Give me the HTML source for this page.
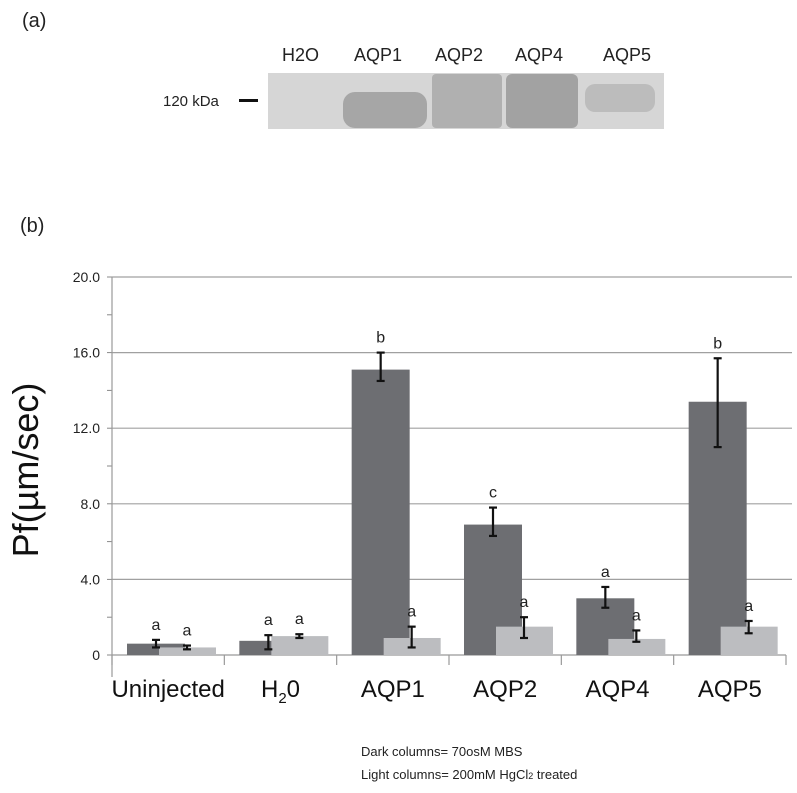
<!DOCTYPE html>
<html><head><meta charset="utf-8"><style>
body{margin:0;background:#fff;width:797px;height:788px;overflow:hidden;font-family:"Liberation Sans",sans-serif}
</style></head><body>
<svg id="c" width="797" height="788" xmlns="http://www.w3.org/2000/svg" font-family="Liberation Sans, sans-serif">
<text x="22" y="27" font-size="20" fill="#222">(a)</text>
<g>
<rect x="268" y="73" width="396" height="56" fill="#d6d6d6"/>
<rect x="343" y="92" width="84" height="36" rx="12" fill="#a6a6a6"/>
<rect x="432" y="74" width="70" height="54" rx="4" fill="#b0b0b0"/>
<rect x="506" y="74" width="72" height="54" rx="6" fill="#a2a2a2"/>
<rect x="585" y="84" width="70" height="28" rx="10" fill="#bcbcbc"/>
<text x="282" y="61" font-size="18" fill="#222">H2O</text>
<text x="354" y="61" font-size="18" fill="#222">AQP1</text>
<text x="435" y="61" font-size="18" fill="#222">AQP2</text>
<text x="515" y="61" font-size="18" fill="#222">AQP4</text>
<text x="603" y="61" font-size="18" fill="#222">AQP5</text>
<text x="163" y="106" font-size="15" fill="#222">120 kDa</text>
<rect x="239" y="99" width="19" height="3" fill="#111"/>
</g>
<text x="20" y="232" font-size="20" fill="#222">(b)</text>
<text transform="translate(38,470) rotate(-90)" text-anchor="middle" font-size="36" fill="#111">Pf(µm/sec)</text>
<g id="plot"></g>
<text x="361" y="756" font-size="13" fill="#222">Dark columns= 70osM MBS</text>
<text x="361" y="779" font-size="13" fill="#222">Light columns= 200mM HgCl<tspan font-size="9">2</tspan> treated</text>
</svg>
<script>
const categories=["Uninjected","H2O","AQP1","AQP2","AQP4","AQP5"];
const darkValues=[0.6,0.75,15.1,6.9,3.0,13.4];
const darkErrLow=[0.4,0.3,14.5,6.3,2.5,11.0];
const darkErrHigh=[0.8,1.05,16.0,7.8,3.6,15.7];
const darkLetters=["a","a","b","c","a","b"];
const lightValues=[0.4,1.0,0.9,1.5,0.85,1.5];
const lightErrLow=[0.3,0.9,0.4,0.9,0.7,1.15];
const lightErrHigh=[0.5,1.1,1.5,2.0,1.3,1.8];
const lightLetters=["a","a","a","a","a","a"];
const yTicks=[0,4,8,12,16,20];
const yTickLabels=["0","4.0","8.0","12.0","16.0","20.0"];
const NS="http://www.w3.org/2000/svg";
const g=document.getElementById('plot');
const X0=112,X1=786,Y0=655,PX=18.9;
const bw=(X1-X0)/categories.length;
const y=v=>Y0-v*PX;
const cx=i=>X0+i*bw;
function mk(t,a,p){const e=document.createElementNS(NS,t);for(const k in a)e.setAttribute(k,a[k]);(p||g).appendChild(e);return e;}
yTicks.forEach((t,i)=>{
 if(t>0){const l=mk('line',{x1:X0,x2:792,y1:y(t),y2:y(t),stroke:'#a0a0a0','stroke-width':1.2});
 
 }
 const tx=mk('text',{x:X0-12,y:y(t)+5,'text-anchor':'end','font-size':14,fill:'#222'});
 tx.textContent=yTickLabels[i];
 
 
 if(t<20){mk('line',{x1:X0-5,x2:X0,y1:y(t+2),y2:y(t+2),stroke:'#888'});}
 mk('line',{x1:X0-5,x2:X0,y1:y(t),y2:y(t),stroke:'#888'});
});
const ax=mk('line',{x1:X0,x2:X0,y1:y(20),y2:Y0+22,stroke:'#999','stroke-width':1.2});


const xa=mk('line',{x1:X0,x2:X1,y1:Y0,y2:Y0,stroke:'#999','stroke-width':1.2});


for(let i=0;i<=categories.length;i++)mk('line',{x1:cx(i),x2:cx(i),y1:Y0,y2:Y0+10,stroke:'#999','stroke-width':1.2});
function err(x,lo,hi){
 mk('line',{x1:x,x2:x,y1:y(hi),y2:y(lo),stroke:'#111','stroke-width':2.2});
 mk('line',{x1:x-4,x2:x+4,y1:y(hi),y2:y(hi),stroke:'#111','stroke-width':2.2});
 mk('line',{x1:x-4,x2:x+4,y1:y(lo),y2:y(lo),stroke:'#111','stroke-width':2.2});
}
function letter(x,v,s){const t=mk('text',{x:x,y:y(v)-10,'text-anchor':'middle','font-size':16,fill:'#222'});t.textContent=s;
 
 }
categories.forEach((c,i)=>{
 const dx=cx(i)+15,lx=cx(i)+47;
 const d=mk('rect',{x:dx,y:y(darkValues[i]),width:58,height:darkValues[i]*PX,fill:'#6d6e72'});
 
 
 const l=mk('rect',{x:lx,y:y(lightValues[i]),width:57,height:lightValues[i]*PX,fill:'#bcbdc0'});
 
 
 err(dx+29,darkErrLow[i],darkErrHigh[i]);
 err(lx+28,lightErrLow[i],lightErrHigh[i]);
 letter(dx+29,darkErrHigh[i],darkLetters[i]);
 letter(lx+28,lightErrHigh[i],lightLetters[i]);
 const t=mk('text',{x:cx(i)+bw/2,y:697,'text-anchor':'middle','font-size':24,fill:'#111'});
 if(c==="H2O"){t.innerHTML='H<tspan font-size="15" dy="6">2</tspan><tspan dy="-6">0</tspan>';}else t.textContent=c;
 
 
});
</script>
</body></html>
